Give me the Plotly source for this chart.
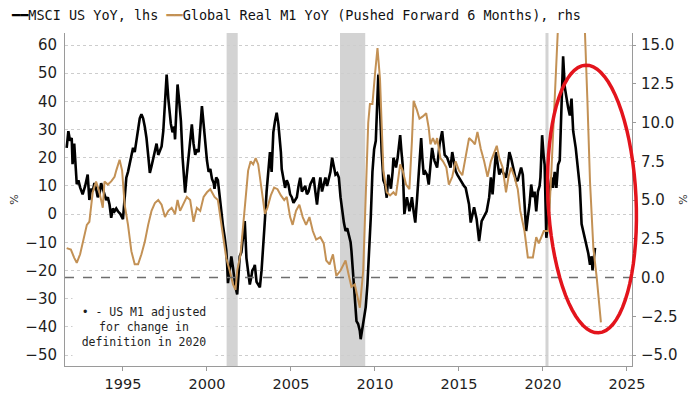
import math
import plotly.graph_objects as go

# ---------------- data (decimal years) ----------------
msci_years = [1991.65, 1991.75, 1991.85, 1991.95, 1992.0, 1992.1, 1992.25, 1992.35, 1992.45, 1992.6,
              1992.75, 1992.9, 1993.0, 1993.1, 1993.2, 1993.3, 1993.4, 1993.5, 1993.6, 1993.7,
              1993.8, 1993.9, 1994.0, 1994.1, 1994.2, 1994.3, 1994.4, 1994.5, 1994.6, 1994.7,
              1994.85, 1995.0, 1995.1, 1995.2, 1995.3, 1995.4, 1995.5, 1995.6, 1995.7, 1995.8,
              1995.9, 1996.0, 1996.1, 1996.2, 1996.3, 1996.4, 1996.5, 1996.6, 1996.7, 1996.8,
              1996.9, 1997.0, 1997.1, 1997.2, 1997.3, 1997.4, 1997.5, 1997.6, 1997.7, 1997.75,
              1997.85, 1997.95, 1998.05, 1998.1, 1998.2, 1998.25, 1998.35, 1998.45, 1998.55, 1998.65,
              1998.7, 1998.8, 1998.9, 1999.0, 1999.1, 1999.2, 1999.3, 1999.4, 1999.5, 1999.6,
              1999.7, 1999.8, 1999.9, 2000.0, 2000.1, 2000.2, 2000.3, 2000.4, 2000.45, 2000.55,
              2000.65, 2000.75, 2000.85, 2000.95, 2001.05, 2001.15, 2001.2, 2001.25, 2001.35, 2001.45,
              2001.55, 2001.6, 2001.7, 2001.8, 2001.9, 2001.95, 2002.05, 2002.15, 2002.25, 2002.35,
              2002.45, 2002.55, 2002.65, 2002.7, 2002.8, 2002.85, 2002.95, 2003.05, 2003.15, 2003.25,
              2003.35, 2003.45, 2003.55, 2003.65, 2003.75, 2003.85, 2003.95, 2004.05, 2004.15, 2004.25,
              2004.3, 2004.4, 2004.45, 2004.55, 2004.65, 2004.75, 2004.85, 2004.95, 2005.05, 2005.15,
              2005.25, 2005.35, 2005.45, 2005.55, 2005.65, 2005.75, 2005.85, 2005.95, 2006.05, 2006.15,
              2006.25, 2006.35, 2006.45, 2006.55, 2006.65, 2006.75, 2006.85, 2006.95, 2007.05, 2007.15,
              2007.25, 2007.35, 2007.45, 2007.55, 2007.65, 2007.75, 2007.85, 2007.95, 2008.05, 2008.15,
              2008.25, 2008.35, 2008.45, 2008.55, 2008.6, 2008.7, 2008.8, 2008.9, 2009.0, 2009.1,
              2009.15, 2009.25, 2009.35, 2009.45, 2009.55, 2009.65, 2009.75, 2009.85, 2009.9, 2009.95,
              2010.05, 2010.12, 2010.2, 2010.25, 2010.3, 2010.35, 2010.4, 2010.5, 2010.6, 2010.7,
              2010.8, 2010.87, 2010.95, 2011.05, 2011.1, 2011.2, 2011.25, 2011.35, 2011.5, 2011.58,
              2011.65, 2011.75, 2011.85, 2011.9, 2012.0, 2012.05, 2012.15, 2012.2, 2012.3, 2012.4,
              2012.5, 2012.6, 2012.75, 2012.82, 2012.9, 2013.0, 2013.1, 2013.2, 2013.3, 2013.4,
              2013.5, 2013.55, 2013.7, 2013.85, 2014.0, 2014.1, 2014.15, 2014.3, 2014.4, 2014.5,
              2014.6, 2014.7, 2014.8, 2014.9, 2015.0, 2015.1, 2015.2, 2015.3, 2015.4, 2015.5,
              2015.6, 2015.7, 2015.8, 2015.9, 2016.05, 2016.2, 2016.35, 2016.5, 2016.65, 2016.8,
              2016.9, 2017.0, 2017.1, 2017.2, 2017.3, 2017.4, 2017.5, 2017.6, 2017.7, 2017.8,
              2017.9, 2018.0, 2018.1, 2018.2, 2018.3, 2018.4, 2018.5, 2018.6, 2018.7, 2018.8,
              2018.9, 2019.0, 2019.1, 2019.2, 2019.3, 2019.4, 2019.5, 2019.6, 2019.7, 2019.8,
              2019.85, 2019.95, 2020.05, 2020.1, 2020.2, 2020.3, 2020.4, 2020.5, 2020.6, 2020.7,
              2020.8, 2020.9, 2021.0, 2021.1, 2021.2, 2021.3, 2021.4, 2021.5, 2021.6, 2021.7,
              2021.8, 2021.95, 2022.1, 2022.2, 2022.3, 2022.4, 2022.5, 2022.6, 2022.7, 2022.8,
              2022.9, 2022.95, 2023.05, 2023.1]
msci_values = [23.5, 29.4, 26, 27, 17.7, 25, 10.6, 12, 9.5, 7,
               10, 14, 5, 9, 8, 11, 9, 6, 7, 11,
               9, 7, 5, 6, 3.4, -1.3, 2, 1, 2, 1,
               0, -1.8, 5, 12.9, 15, 17.7, 20, 23.5, 22, 26,
               30, 34, 35.4, 34, 31, 27, 21, 14.6, 17, 20,
               22, 25, 21, 22.5, 24, 29.4, 38, 49.5, 41, 37,
               32, 29, 31, 26.5, 38, 46, 40, 33, 20, 12,
               7.6, 14, 20, 26, 31.8, 25, 21, 23, 22, 30,
               38.3, 32, 25, 19, 15, 16, 12.5, 11, 9, 13,
               12, 6, 1, -4, -8, -13, -17.8, -24.5, -20, -15,
               -19, -22, -26, -28.5, -20, -15, -13.5, -8, -2.5, -15.6,
               -20, -25, -22, -20, -19, -18, -24, -25, -26, -20,
               -12.6, -2, 8, 15, 22, 15, 29, 33, 36, 32,
               29, 22, 16, 13, 9.3, 12, 10.5, 7, 6, 4,
               5, 6, 10, 12.9, 8, 9.3, 10, 7, 8, 10.5,
               12, 13, 8, 3.4, 9, 13, 8, 11, 13, 10,
               13, 15, 20, 17, 14, 14.5, 13, 6, 1, -3,
               -6, -5, -7.5, -10, -13, -20.6, -29.7, -38, -39, -41.5,
               -44.4, -40, -37, -33, -25, -15, -1.3, 15, 22, 23,
               26, 38, 49.5, 44, 39, 30, 22, 12, 10.5, 5.8,
               14, 11, 9, 15, 20, 18, 16.5, 20, 28, 22,
               17.5, 0, 4, 6, 3, 1, 4, 6, 1, -3,
               5, 12.6, 27, 20, 14, 15, 14, 10.5, 17, 23.5,
               20, 18.8, 16.5, 25, 29.4, 24, 21, 20, 18, 16.5,
               22, 18, 15.3, 14, 13, 12, 10.5, 10, 9.3, 6,
               3.4, -3, 0, 2.4, -1.7, -9.6, -2.5, -1, 1, 6,
               13, 7, 15, 22, 18, 14, 16, 15, 14, 13,
               17, 22, 20, 17.5, 14, 11.8, 12, 14, 16.5, 14,
               4, -6, -1, 3.4, 10.5, 6, 8, 1, 8, 10,
               13, 28, 20, 17.5, -8.4, -3.5, 8, 13, 9.3, 15,
               9.3, 17.5, 19, 41, 56, 45, 41, 37.7, 35, 41,
               29.4, 23.5, 15, 9.3, -3.5, -6, -8.4, -10.6, -14, -18,
               -15, -20, -13, -12]

m1_years = [1991.65, 1991.9, 1992.1, 1992.25, 1992.45, 1992.6, 1992.85, 1993.0, 1993.2, 1993.4,
            1993.55, 1993.7, 1993.8, 1993.9, 1994.1, 1994.3, 1994.5, 1994.6, 1994.8, 1994.95,
            1995.1, 1995.3, 1995.5, 1995.7, 1995.9, 1996.1, 1996.3, 1996.5, 1996.7, 1996.9,
            1997.1, 1997.3, 1997.5, 1997.7, 1997.9, 1998.1, 1998.25, 1998.4, 1998.6, 1998.8,
            1999.0, 1999.2, 1999.4, 1999.6, 1999.8, 2000.0, 2000.2, 2000.45, 2000.65, 2000.85,
            2001.0, 2001.15, 2001.35, 2001.55, 2001.7, 2001.8, 2002.0, 2002.2, 2002.45, 2002.6,
            2002.75, 2002.9, 2003.05, 2003.25, 2003.45, 2003.6, 2003.8, 2004.0, 2004.2, 2004.4,
            2004.6, 2004.75, 2004.95, 2005.1, 2005.3, 2005.5, 2005.7, 2005.9, 2006.1, 2006.3,
            2006.5, 2006.75, 2006.95, 2007.1, 2007.3, 2007.5, 2007.7, 2007.95, 2008.25, 2008.45,
            2008.6, 2008.8, 2008.95, 2009.1, 2009.3, 2009.45, 2009.6, 2009.7, 2009.85, 2010.0,
            2010.15, 2010.3, 2010.4, 2010.5, 2010.7, 2010.9, 2011.1, 2011.25, 2011.5, 2011.65,
            2011.85, 2012.05, 2012.2, 2012.3, 2012.5, 2012.65, 2012.85, 2013.05, 2013.2, 2013.3,
            2013.45, 2013.6, 2013.7, 2013.9, 2014.05, 2014.25, 2014.4, 2014.6, 2014.8, 2015.0,
            2015.2, 2015.4, 2015.6, 2015.8, 2015.95, 2016.1, 2016.3, 2016.5, 2016.7, 2016.9,
            2017.1, 2017.25, 2017.4, 2017.6, 2017.8, 2017.95, 2018.1, 2018.3, 2018.5, 2018.65,
            2018.9, 2019.0, 2019.1, 2019.4, 2019.6, 2019.75, 2020.05, 2020.32, 2020.4, 2020.5,
            2020.6, 2020.7, 2020.8, 2020.9, 2021.1, 2021.4, 2021.7, 2022.0, 2022.3, 2022.5,
            2022.64, 2022.8, 2023.0, 2023.2, 2023.45]
m1_values = [1.9, 1.8, 1.27, 0.95, 1.5, 2.2, 3.4, 3.6, 5.5, 6.2,
             5.7, 5.0, 4.5, 6.2, 6.0, 6.2, 6.5, 6.9, 7.6, 6.9,
             4.7, 3.4, 1.7, 0.85, 0.85, 1.5, 2.3, 3.4, 4.3, 4.8,
             5.0, 4.7, 3.9, 4.3, 4.5, 4.1, 5.0, 4.3, 4.7, 5.2,
             5.0, 3.6, 4.5, 4.3, 5.2, 5.5, 5.7, 5.2, 5.0, 3.6,
             2.6, 1.25, 0.45, -0.45, -0.8, 0.45, 1.5, 4.1, 6.9, 7.5,
             7.3, 7.7, 7.3, 5.7, 4.1, 4.5, 5.3, 5.8, 5.7, 5.3,
             5.0, 5.2, 3.9, 3.4, 4.3, 4.7, 3.9, 3.4, 3.9, 3.0,
             2.45, 2.6, 2.2, 1.1, 0.85, 1.5, 0.1, 0.45, 1.1, 0.1,
             -0.6, -0.45, -1.1, -1.95, 0.45, 5.2, 10.0, 11.2, 11.2, 13.1,
             14.8, 12.8, 10.1, 6.9, 5.5, 5.3, 5.5, 5.3, 7.3, 6.9,
             6.0, 5.7, 8.8, 11.4, 10.8, 10.25, 10.4, 10.6, 9.65, 8.6,
             9.0, 8.6, 9.0, 7.7, 7.5, 7.1, 6.0, 6.5, 7.5, 6.9,
             6.6, 7.7, 9.0, 8.8, 8.6, 9.4, 8.3, 7.5, 6.5, 7.5,
             8.1, 8.5, 7.7, 7.1, 5.5, 6.5, 7.1, 6.5, 5.7, 4.3,
             3.0, 2.0, 1.3, 1.3, 2.6, 2.2, 3.0, 3.0, 4.5, 6.8,
             9.2, 11.7, 14.5, 17.0, 21.0, 24.0, 25.0, 23.0, 19.0, 15.8,
             11.6, 6.2, 1.9, 0.0, -2.9]

rec_start = [2001.17, 2007.92, 2020.15]
rec_end = [2001.83, 2009.42, 2020.33]

left_ticks = [-50, -40, -30, -20, -10, 0, 10, 20, 30, 40, 50, 60]
right_ticks = [-5.0, -2.5, 0.0, 2.5, 5.0, 7.5, 10.0, 12.5, 15.0]
x_ticks = [1995, 2000, 2005, 2010, 2015, 2020, 2025]

BLACK = "#000000"
GOLD = "#C39155"
RED = "#E3141C"
TICKFONT = dict(family="DejaVu Sans", size=15, color="#1e1e1e")
XTICKFONT = dict(family="DejaVu Sans", size=14.5, color="#1e1e1e")
MONO = "DejaVu Sans Mono"

# geometry: target plot box in screen pixels, compensating the page's 8px body margin
W, H = 700, 394
OFF = 8
PL, PR, PT, PB = 65, 632, 33, 366          # plot box as seen on screen
PW, PH = PR - PL, PB - PT
ML, MT = PL - OFF, PT - OFF
MR, MB = W - (PR - OFF), H - (PB - OFF)


def to_paper(px, py):
    return (px - PL) / PW, (PB - py) / PH


fig = go.Figure()
fig.add_trace(go.Scatter(x=m1_years, y=m1_values, yaxis="y2", mode="lines",
                         name="Global Real M1 YoY (Pushed Forward 6 Months), rhs",
                         line=dict(color=GOLD, width=2), showlegend=False))
fig.add_trace(go.Scatter(x=msci_years, y=msci_values, mode="lines",
                         name="MSCI US YoY, lhs",
                         line=dict(color=BLACK, width=2.6), showlegend=False))

# recession shading
for s, e in zip(rec_start, rec_end):
    fig.add_shape(type="rect", xref="x", yref="paper", x0=s, x1=e, y0=0, y1=1,
                  fillcolor="#D3D3D3", line=dict(width=0), layer="below")

# dashed zero line of the right axis
fig.add_shape(type="line", xref="paper", yref="y2", x0=0, x1=1, y0=0, y1=0,
              line=dict(color="#6e6e6e", width=1.5, dash="dash"))

# red, slightly tilted ellipse (annotation)
cx, cy, a, b = 592.0, 199.0, 44.0, 134.0
phi = math.atan2(6.5, 134.0)
pts = []
for i in range(73):
    t = 2 * math.pi * i / 72
    px = cx + a * math.cos(t) * math.cos(phi) + b * math.sin(t) * math.sin(phi)
    py = cy - a * math.cos(t) * math.sin(phi) + b * math.sin(t) * math.cos(phi)
    pts.append(to_paper(px, py))
path = "M " + " L ".join(f"{x:.4f},{y:.4f}" for x, y in pts) + " Z"
fig.add_shape(type="path", xref="paper", yref="paper", path=path,
              line=dict(color=RED, width=3.5))

# legend-style header
hx, hy = to_paper(9, 15)
fig.add_annotation(xref="paper", yref="paper", x=hx, y=hy, xanchor="left", yanchor="middle",
                   showarrow=False, font=dict(family=MONO, size=13.5, color="#111111"),
                   text=("<span style='color:#000000'><b>━━</b></span>MSCI US YoY, lhs "
                         "<span style='color:" + GOLD + "'><b>━━</b></span>"
                         "Global Real M1 YoY (Pushed Forward 6 Months), rhs"))

# footnote box
fx, fy = to_paper(144, 327)
fig.add_annotation(xref="paper", yref="paper", x=fx, y=fy, xanchor="center", yanchor="middle",
                   showarrow=False, align="center", bgcolor="white", width=140, height=70,
                   font=dict(family=MONO, size=11.5, color="#1e1e1e"),
                   text="• - US M1 adjusted<br>for change in<br>definition in 2020")

fig.update_layout(
    width=W, height=H,
    margin=dict(l=ML, r=MR, t=MT, b=MB, autoexpand=False),
    paper_bgcolor="white", plot_bgcolor="white",
    xaxis=dict(range=[1991.55, 2025.3], tickvals=x_ticks, showgrid=False, zeroline=False,
               showline=True, linecolor="#9a9a9a", linewidth=1, automargin=False,
               ticks="outside", ticklen=4, tickcolor="#9a9a9a",
               tickfont=XTICKFONT, ticklabelstandoff=1),
    yaxis=dict(range=[-53.9, 64.26], tickvals=left_ticks, showgrid=True,
               gridcolor="#cdcdcd", griddash="dot", gridwidth=1, zeroline=False,
               showline=True, linecolor="#9a9a9a", linewidth=1, ticks="", automargin=False,
               tickfont=TICKFONT, ticklabelstandoff=4,
               title=dict(text="%", font=dict(family="DejaVu Sans", size=11, color="#333"), standoff=20)),
    yaxis2=dict(range=[-5.71, 15.78], tickvals=right_ticks, tickformat=".1f",
                overlaying="y", side="right", showgrid=False, zeroline=False,
                showline=True, linecolor="#9a9a9a", linewidth=1, automargin=False,
                ticks="outside", ticklen=3, tickcolor="#9a9a9a",
                tickfont=TICKFONT, ticklabelstandoff=2,
                title=dict(text="%", font=dict(family="DejaVu Sans", size=11, color="#333"), standoff=2)),
)

fig.write_html("out.html")
